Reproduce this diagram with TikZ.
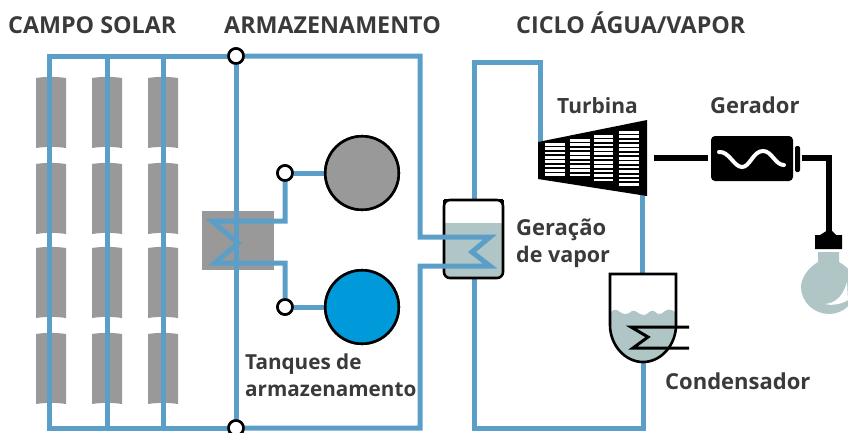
\documentclass[tikz,border=0pt]{standalone}
\usepackage{fontspec}
\setmainfont{Open Sans}
\definecolor{pipe}{HTML}{5B9FC9}
\definecolor{panel}{HTML}{999999}
\definecolor{water}{HTML}{AFC5C6}
\definecolor{tankblue}{HTML}{009ADA}
\definecolor{label}{HTML}{3A3A3A}
\tikzset{
  x=1pt,y=-1pt,
  pipeline/.style={draw=pipe,line width=5pt,line join=miter},
  blackline/.style={draw=black,line width=3pt,line join=miter},
  joint/.style={circle,draw=black,line width=2.6pt,fill=white,minimum size=15pt,inner sep=0pt,outer sep=0pt},
  tank/.style={circle,draw=black,line width=2.6pt,minimum size=73.5pt,inner sep=0pt,outer sep=0pt},
  lbl/.style={font=\bfseries\fontsize{#1}{24pt}\selectfont,text=label,inner sep=0pt,align=left},
  lbl/.default=21.5pt,
  head/.style={font=\bfseries\fontsize{23.3pt}{24pt}\selectfont,text=label,inner sep=0pt,align=left},
  panelbox/.style={fill=panel},
}
\newcommand{\mirror}[2]{\path[panelbox] (#1-15,#2) .. controls (#1-5,#2-1.5) and (#1+5,#2-1.5) .. (#1+15,#2) -- (#1+15,#2+70) .. controls (#1+5,#2+68.5) and (#1-5,#2+68.5) .. (#1-15,#2+70) -- cycle;}
\begin{document}
\begin{tikzpicture}
\useasboundingbox (0,0) rectangle (848,432);
% mirrors
\foreach \cx in {51,107,163}{\foreach \ry in {78,164,248,334}{\mirror{\cx}{\ry}}}
% exchanger block
\path[panelbox] (202,211) rectangle (274,270);
% tank nodes
\node[tank,fill=panel] (hot) at (362,173) {};
\node[tank,fill=tankblue] (cold) at (362,307) {};
\node[joint] (jhot) at (285,173) {};
\node[joint] (jcold) at (285,307) {};
\node[joint] (jtop) at (236,56) {};
\node[joint] (jbot) at (236,428) {};
% outer pipes
\draw[pipeline] (jtop) -- (49,56) -- (49,428) -- (jbot);
\draw[pipeline] (107,56) -- (107,428);
\draw[pipeline] (163,56) -- (163,428);
\draw[pipeline] (jtop) -- (jbot);
\coordinate (tin) at (474,62);
\draw[pipeline] (474,200) -- (tin) -- (540,62) -- (540,143);
\draw[pipeline] (642,190) -- (642,274);
\draw[pipeline] (643,362) -- (643,428) -- (474,428) -- (474,278);
% steam generator
\path[fill=water,rounded corners=6pt] (445,223) -- (502,223) -- (502,277) -- (445,277) -- cycle;
\path[fill=water] (445,223) rectangle (502,260);
\draw[black,line width=2.6pt,rounded corners=6pt] (444,200) -- (503,200) -- (503,278) -- (444,278) -- cycle;
\path[draw=black,line width=2.6pt] (444,200) -- (452,200) (503,200) -- (495,200) (444,200) -- (444,208) (503,200) -- (503,208);
% condenser
\path[fill=water] (611,312) .. controls (614,309) and (616,309) .. (620,312) .. controls (624,315) and (627,315) .. (632,311) .. controls (636,309) and (638,315) .. (644,315) .. controls (648,315) and (650,309) .. (654,311) .. controls (658,315) and (661,315) .. (665,311) .. controls (668,309) and (671,309) .. (675,312) -- (675,325) .. controls (675,345) and (660,361) .. (643,361) .. controls (626,361) and (611,345) .. (611,325) -- cycle;
\draw[black,line width=2.6pt] (610,274) -- (676,274) -- (676,325) .. controls (676,345) and (661,362) .. (643,362) .. controls (625,362) and (610,345) .. (610,325) -- cycle;
% working pipes
\draw[pipeline] (jtop) -- (420,56) -- (420,237) -- (490,237) -- (472,252) -- (490,266) -- (420,266) -- (420,428) -- (jbot);
\draw[pipeline] (hot) -- (jhot);
\draw[pipeline] (cold) -- (jcold);
\draw[pipeline] (jhot) -- (285,221) -- (212,221) -- (238,243) -- (215,263) -- (285,263) -- (jcold);
% redraw circles over pipes
\node[joint] at (jhot) {};
\node[joint] at (jcold) {};
\node[joint] at (jtop) {};
\node[joint] at (jbot) {};
\node[tank,fill=panel] at (hot) {};
\node[tank,fill=tankblue] at (cold) {};
% condenser coil
\draw[blackline] (689,327) -- (631,327) -- (648,337) -- (633,348) -- (689,348);
% turbine
\path[fill=black] (538,142) -- (647,120) -- (647,196) -- (538,179) -- cycle;
\foreach \xa/\xb/\ya/\yb in {545/565/143/174,570/590/139/177,594/613/135/181,619/639/131/186}{
  \pgfmathtruncatemacro{\n}{int((\yb-\ya)/4.35)}
  \foreach \i in {0,...,\n}{
    \path[fill=white] (\xa,{\ya+\i*4.35}) rectangle (\xb,{\ya+\i*4.35+2.6});
  }
}
% generator
\node[fill=black,rounded corners=4pt,minimum width=82pt,minimum height=45pt,inner sep=0pt,outer sep=0pt] (gen) at (752,158.5) {};
\draw[white,line width=4pt,line cap=round] (719,152) .. controls (729,151) and (734,167) .. (742,167) .. controls (750,167) and (753,151) .. (763,151) .. controls (772,151) and (775,165) .. (784,165);
\path[fill=black,rounded corners=2pt] (795,146) rectangle (800,172);
\draw[black,line width=5.5pt] (654,158) -- (708,158);
\draw[black,line width=5.5pt] (802,158) -- (829,158) -- (829,235);
% bulb
\path[fill=black] (815,235) -- (820,235) -- (828,230) -- (831,230) -- (836,235) -- (842,235) -- (842,249) -- (815,249) -- cycle;
\path[fill=water] (818,252) -- (839,252) -- (839,262) .. controls (850,268) and (856,278) .. (856,287) .. controls (856,302) and (844,314) .. (829,314) .. controls (814,314) and (801,302) .. (801,287) .. controls (801,278) and (808,268) .. (818,262) -- cycle;
\path[fill=white] (825,304) .. controls (836,303) and (843,296) .. (847,282) -- (848,300) .. controls (842,304) and (832,306) .. (825,304) -- cycle;
% labels
\node[head,anchor=base west] at (8,33) {CAMPO SOLAR};
\node[head,anchor=base west] at (224,33) {ARMAZENAMENTO};
\node[head,anchor=base west] at (516,33) {CICLO ÁGUA/VAPOR};
\node[lbl=21pt,anchor=base west] at (557,113) {Turbina};
\node[lbl=22pt,anchor=base west] at (710,113) {Gerador};
\node[lbl=22pt,anchor=base west] at (516,235) {Geração};
\node[lbl,anchor=base west] at (516,262) {de vapor};
\node[lbl=20.7pt,anchor=base west] at (245,369) {Tanques de};
\node[lbl=20.7pt,anchor=base west] at (245,396) {armazenamento};
\node[lbl=22pt,anchor=base west] at (665,389) {Condensador};
\end{tikzpicture}
\end{document}
